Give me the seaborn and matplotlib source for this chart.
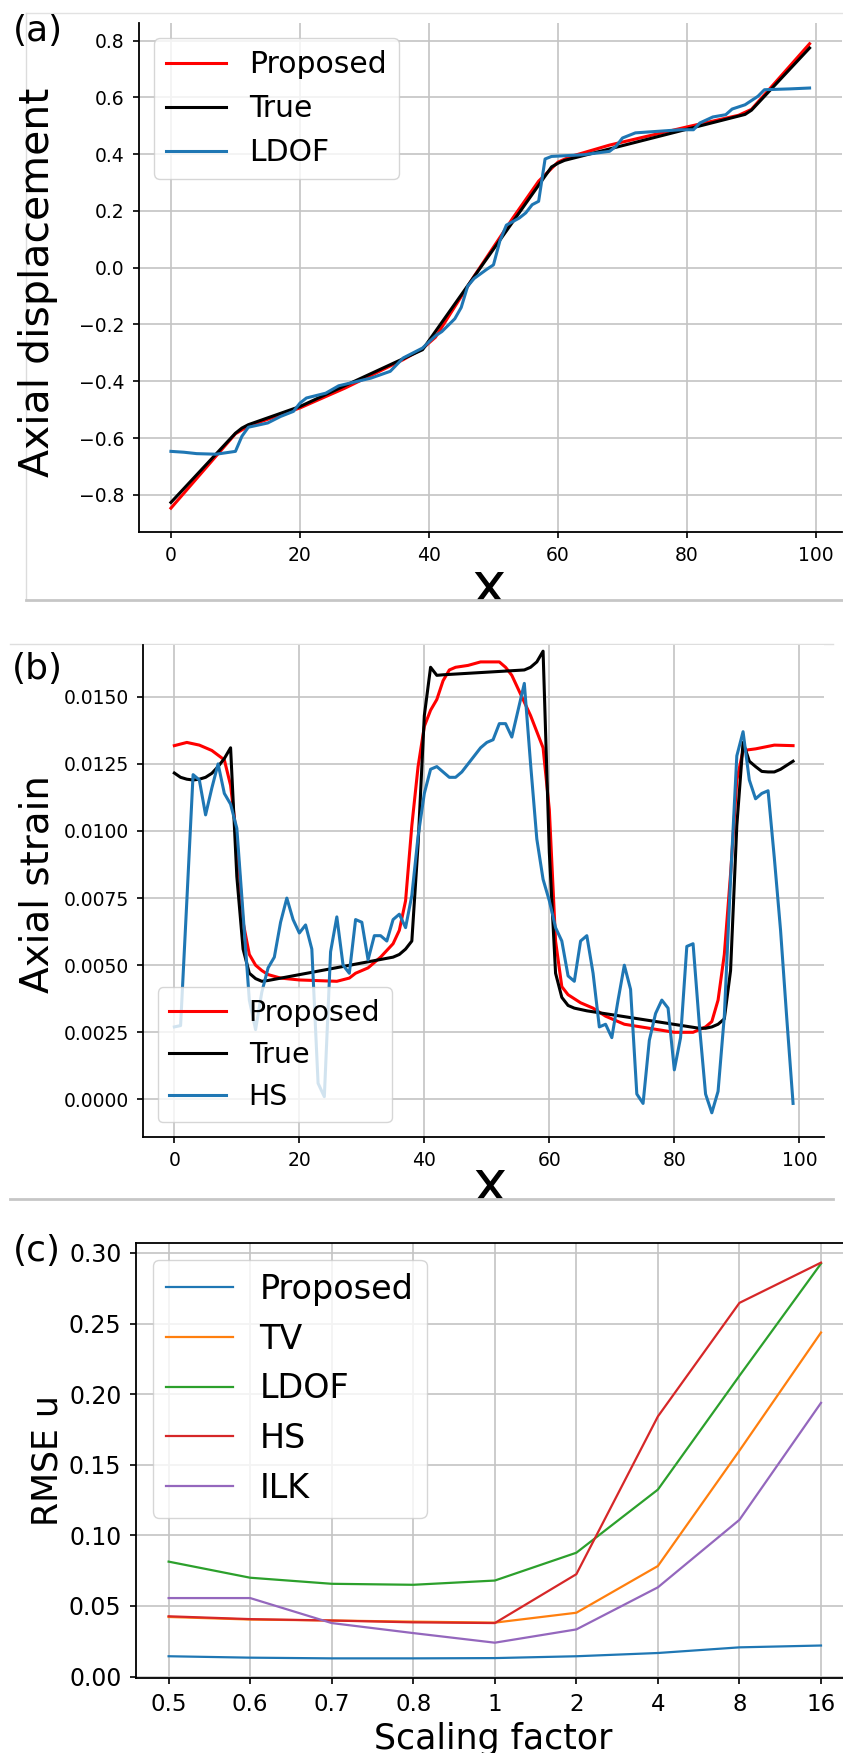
import numpy as np
import pandas as pd
import matplotlib
matplotlib.use("Agg")
import matplotlib.pyplot as plt
import seaborn as sns
from matplotlib.patches import Rectangle
from matplotlib.lines import Line2D
from matplotlib.ticker import FormatStrFormatter

# ---------------- Panel (a): axial displacement ----------------
a_prop_x = [0, 10, 12, 20, 27, 36, 39, 41, 47, 53, 57, 60, 62, 68, 80, 88, 90, 99]
a_prop_y = [-0.847, -0.585, -0.558, -0.494, -0.424, -0.324, -0.285, -0.245, -0.03,
            0.175, 0.305, 0.372, 0.392, 0.432, 0.496, 0.537, 0.558, 0.789]
a_true_x = [0, 10, 11, 12, 20, 39, 59, 60, 61, 89, 90, 99]
a_true_y = [-0.827, -0.583, -0.565, -0.553, -0.489, -0.289, 0.355, 0.368, 0.378,
            0.540, 0.555, 0.774]
a_ldof_x = [0, 2, 4, 7, 10, 11, 12, 15, 17, 19, 20, 21, 24, 26, 31, 34, 36, 39, 41, 42,
            44, 45, 46, 47, 49, 50, 51, 52, 54, 55, 56, 57, 58, 59, 64, 68, 69, 70, 72,
            79, 81, 82, 84, 86, 87, 89, 91, 92, 96, 99]
a_ldof_y = [-0.647, -0.650, -0.655, -0.657, -0.647, -0.594, -0.562, -0.547, -0.524,
            -0.506, -0.477, -0.459, -0.442, -0.416, -0.389, -0.365, -0.318, -0.283,
            -0.240, -0.225, -0.180, -0.140, -0.065, -0.038, -0.005, 0.010, 0.095, 0.150,
            0.175, 0.193, 0.222, 0.234, 0.383, 0.392, 0.398, 0.410, 0.428, 0.457, 0.475,
            0.486, 0.486, 0.510, 0.531, 0.539, 0.559, 0.574, 0.604, 0.627, 0.630, 0.633]

# ---------------- Panel (b): axial strain ----------------
b_prop_x = [0, 2, 4, 6, 8, 9, 10, 11, 12, 13, 14, 15, 17, 20, 26, 28, 29, 31, 33, 35,
            36, 37, 38, 39, 40, 41, 42, 43, 44, 45, 47, 49, 52, 53, 54, 55, 56, 57, 58,
            59, 60, 61, 62, 63, 65, 67, 69, 72, 76, 80, 83, 84, 85, 86, 87, 88, 89, 90,
            91, 93, 96, 99]
b_prop_y = [0.01318, 0.0133, 0.0132, 0.0130, 0.01265, 0.0117, 0.0097, 0.0066, 0.0054,
            0.0050, 0.0048, 0.00465, 0.00452, 0.00445, 0.0044, 0.00452, 0.0047, 0.0049,
            0.0053, 0.0058, 0.0063, 0.0074, 0.0102, 0.0124, 0.0139, 0.0145, 0.0149,
            0.0156, 0.0160, 0.0161, 0.01617, 0.0163, 0.0163, 0.0161, 0.0158, 0.0153,
            0.0148, 0.0143, 0.0137, 0.0131, 0.0108, 0.0059, 0.0042, 0.0039, 0.0036,
            0.0034, 0.0031, 0.0028, 0.00265, 0.0025, 0.0025, 0.0026, 0.0027, 0.0029,
            0.0037, 0.0054, 0.0084, 0.0119, 0.0130, 0.01306, 0.0132, 0.01318]
b_true_x = [0, 1, 2, 3, 4, 5, 6, 7, 8, 9, 10, 11, 12, 13, 14, 15, 35, 36, 37, 38, 39,
            40, 41, 42, 43, 56, 57, 58, 59, 60, 61, 62, 63, 64, 66, 84, 85, 86, 87, 88,
            89, 90, 91, 92, 93, 94, 95, 96, 97, 98, 99]
b_true_y = [0.01216, 0.0120, 0.01193, 0.0119, 0.01193, 0.0120, 0.01215, 0.0124, 0.0127,
            0.0131, 0.0083, 0.0056, 0.0047, 0.0045, 0.0044, 0.00443, 0.0053, 0.0054,
            0.0056, 0.0059, 0.0095, 0.0143, 0.0161, 0.0158, 0.01582, 0.0160, 0.0161,
            0.0163, 0.0167, 0.0092, 0.0047, 0.0038, 0.0035, 0.0034, 0.0033, 0.00265,
            0.00265, 0.0027, 0.0028, 0.0030, 0.0048, 0.0102, 0.0133, 0.0126, 0.0124,
            0.01222, 0.0122, 0.0122, 0.0123, 0.01245, 0.0126]
b_hs_y = [0.0027, 0.00275, 0.0074, 0.0121, 0.0119, 0.0106, 0.0116, 0.0125, 0.0114, 0.0110,
          0.0101, 0.0069, 0.0037, 0.0026, 0.0040, 0.0049, 0.0053, 0.0066, 0.0075, 0.0067,
          0.0062, 0.0065, 0.0056, 0.0006, 0.0001, 0.0055, 0.0068, 0.0050, 0.0047, 0.0067,
          0.0066, 0.0052, 0.0061, 0.0061, 0.0059, 0.0067, 0.0069, 0.0064, 0.0076, 0.0098,
          0.0114, 0.0123, 0.0124, 0.0122, 0.0120, 0.0120, 0.0122, 0.0125, 0.0128, 0.0131,
          0.0133, 0.0134, 0.0140, 0.0140, 0.0135, 0.0145, 0.0155, 0.0125, 0.0097, 0.0082,
          0.0074, 0.0064, 0.0059, 0.0046, 0.0044, 0.0059, 0.0061, 0.0047, 0.0027, 0.0028,
          0.0023, 0.0037, 0.0050, 0.0041, 0.0002, -0.00015, 0.0022, 0.0032, 0.0037, 0.0034,
          0.0011, 0.0023, 0.0057, 0.0058, 0.0028, 0.0002, -0.0005, 0.0003, 0.0031, 0.0082,
          0.0128, 0.0137, 0.0119, 0.0112, 0.0114, 0.0115, 0.0090, 0.0063, 0.0030, -0.00015]
b_hs_x = list(range(len(b_hs_y)))

# ---------------- Panel (c): RMSE vs scaling factor ----------------
scale_labels = ["0.5", "0.6", "0.7", "0.8", "1", "2", "4", "8", "16"]
c_proposed = [0.0144, 0.0134, 0.0129, 0.0129, 0.0131, 0.0144, 0.0167, 0.0207, 0.0220]
c_tv = [0.0422, 0.0404, 0.0397, 0.0389, 0.0382, 0.0452, 0.0783, 0.1600, 0.2436]
c_ldof = [0.0814, 0.0700, 0.0657, 0.0650, 0.0680, 0.0877, 0.1324, 0.2130, 0.2924]
c_hs = [0.0427, 0.0407, 0.0397, 0.0384, 0.0379, 0.0725, 0.1842, 0.2646, 0.2931]
c_ilk = [0.0556, 0.0556, 0.0379, 0.0308, 0.0240, 0.0334, 0.0632, 0.1110, 0.1938]
c_series = [("Proposed", c_proposed), ("TV", c_tv), ("LDOF", c_ldof),
            ("HS", c_hs), ("ILK", c_ilk)]

W, H = 843, 1753
fig = plt.figure(figsize=(W / 100, H / 100), dpi=100)


def ax_rect(left, top, right, bottom):
    return [left / W, 1 - bottom / H, (right - left) / W, (bottom - top) / H]


GRID = dict(color="#c4c4c4", linewidth=1.2)

# ---- panel a
ax_a = fig.add_axes(ax_rect(139, 23.3, 841.5, 531.7))
sns.lineplot(x=a_prop_x, y=a_prop_y, ax=ax_a, color="red", lw=2.2, label="Proposed")
sns.lineplot(x=a_true_x, y=a_true_y, ax=ax_a, color="black", lw=2.2, label="True")
sns.lineplot(x=a_ldof_x, y=a_ldof_y, ax=ax_a, color="#1f77b4", lw=2.2, label="LDOF")
ax_a.set_xlim(-4.95, 103.95)
ax_a.set_ylim(-0.93, 0.861)
ax_a.set_xticks([0, 20, 40, 60, 80, 100])
ax_a.set_yticks([-0.8, -0.6, -0.4, -0.2, 0.0, 0.2, 0.4, 0.6, 0.8])
ax_a.set_ylabel("Axial displacement", fontsize=29.5)
ax_a.yaxis.set_label_coords(-0.1153, 0.49)
ax_a.set_xlabel("x", fontsize=42)
ax_a.xaxis.set_label_coords(0.498, -0.0529)
ax_a.legend(loc="upper left", fontsize=21.5)

# ---- panel b
ax_b = fig.add_axes(ax_rect(143.4, 645, 824, 1136.7))
sns.lineplot(x=b_prop_x, y=b_prop_y, ax=ax_b, color="red", lw=2.2, label="Proposed")
sns.lineplot(x=b_true_x, y=b_true_y, ax=ax_b, color="black", lw=2.2, label="True")
sns.lineplot(x=b_hs_x, y=b_hs_y, ax=ax_b, color="#1f77b4", lw=2.2, label="HS")
ax_b.set_xlim(-4.95, 103.95)
ax_b.set_ylim(-0.00139, 0.01693)
ax_b.set_xticks([0, 20, 40, 60, 80, 100])
ax_b.set_yticks([0.0, 0.0025, 0.005, 0.0075, 0.01, 0.0125, 0.015])
ax_b.yaxis.set_major_formatter(FormatStrFormatter("%.4f"))
ax_b.set_ylabel("Axial strain", fontsize=28)
ax_b.yaxis.set_label_coords(-0.127, 0.513)
ax_b.set_xlabel("x", fontsize=42)
ax_b.xaxis.set_label_coords(0.508, -0.0405)
ax_b.legend(loc="lower left", fontsize=20.5)

for ax in (ax_a, ax_b):
    ax.grid(True, **GRID)
    ax.set_axisbelow(True)
    ax.spines["top"].set_visible(False)
    ax.spines["right"].set_visible(False)
    for s in ("left", "bottom"):
        ax.spines[s].set_linewidth(1.3)
    ax.tick_params(labelsize=13.5, length=4.5, width=1.2, pad=6)

# ---- panel c
ax_c = fig.add_axes(ax_rect(136, 1243, 853.6, 1678))
pos = list(range(len(scale_labels)))
palette = sns.color_palette("tab10", 5)
for (name, vals), col in zip(c_series, palette):
    sns.lineplot(x=pos, y=vals, ax=ax_c, color=col, lw=1.6, label=name)
ax_c.set_xlim(-0.4, 8.4)
ax_c.set_ylim(-0.001, 0.307)
ax_c.set_xticks(pos)
ax_c.set_xticklabels(scale_labels)
ax_c.set_yticks([0.0, 0.05, 0.10, 0.15, 0.20, 0.25, 0.30])
ax_c.yaxis.set_major_formatter(FormatStrFormatter("%.2f"))
ax_c.grid(True, **GRID)
ax_c.set_axisbelow(True)
for s in ax_c.spines.values():
    s.set_linewidth(1.3)
ax_c.tick_params(axis="y", labelsize=17, length=4.5, width=1.2, pad=6)
ax_c.tick_params(axis="x", labelsize=16.5, length=4.5, width=1.2, pad=6)
ax_c.set_ylabel("RMSE u", fontsize=25)
ax_c.yaxis.set_label_coords(-0.100, 0.5)
ax_c.set_xlabel("Scaling factor", fontsize=25)
ax_c.xaxis.set_label_coords(0.498, -0.101)
ax_c.legend(loc="upper left", fontsize=24)

# ---- screenshot crops / borders (decoration)
def cover(x0, y0, x1, y1):
    fig.add_artist(Rectangle((x0 / W, 1 - y1 / H), (x1 - x0) / W, (y1 - y0) / H,
                             transform=fig.transFigure, facecolor="white",
                             edgecolor="none", zorder=5))


def hline(y, x0, x1, color, lw, z=6):
    fig.add_artist(Line2D([x0 / W, x1 / W], [1 - y / H, 1 - y / H],
                          transform=fig.transFigure, color=color, lw=lw, zorder=z))


def vline(x, y0, y1, color, lw, z=-1):
    fig.add_artist(Line2D([x / W, x / W], [1 - y0 / H, 1 - y1 / H],
                          transform=fig.transFigure, color=color, lw=lw, zorder=z))


cover(380, 601, 600, 640)
cover(380, 1199, 600, 1236)
hline(13, 26, 843, "#e2e2e2", 1.0, z=-1)
vline(26, 13, 600, "#dcdcdc", 1.0)
hline(600, 26, 843, "#c6c6c6", 2.0)
hline(644, 10, 833, "#dedede", 1.0, z=-1)
hline(1199, 10, 833, "#c6c6c6", 2.0)

# ---- panel letters
fig.text(13 / W, 1 - 14 / H, "(a)", fontsize=26, ha="left", va="top", zorder=7)
fig.text(12 / W, 1 - 652 / H, "(b)", fontsize=26, ha="left", va="top", zorder=7)
fig.text(13 / W, 1 - 1234 / H, "(c)", fontsize=26, ha="left", va="top", zorder=7)

fig.savefig("out.png", dpi=100)
